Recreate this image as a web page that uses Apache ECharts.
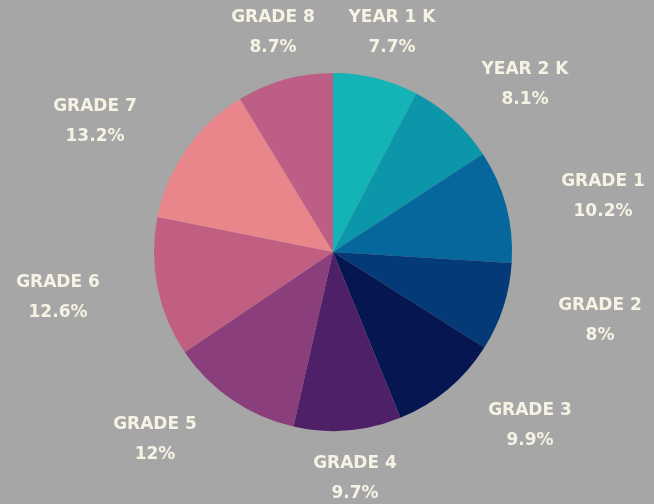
<!DOCTYPE html>
<html>
<head>
<meta charset="utf-8">
<script src="https://cdn.jsdelivr.net/npm/echarts@6/dist/echarts.min.js"></script>
<style>html,body{margin:0;padding:0;background:#a6a6a6;}#c{width:654px;height:504px;}</style>
</head>
<body>
<div id="c"></div>
<script>
var categories = ['YEAR 1 K','YEAR 2 K','GRADE 1','GRADE 2','GRADE 3','GRADE 4','GRADE 5','GRADE 6','GRADE 7','GRADE 8'];
var values = [7.7, 8.1, 10.2, 8, 9.9, 9.7, 12, 12.6, 13.2, 8.7];
var colors = ['#14b4b6','#0b96aa','#05679b','#053a78','#061650','#4d2067','#8a3e7c','#c05f82','#e8868b','#bd5e86'];
var labelSpots = [[392,33],[525,85],[603,197],[600,321],[530,426],[355,479],[155,440],[58,298],[95,122],[273,33]];

var chart = echarts.init(document.getElementById('c'), null, {renderer:'canvas'});
chart.setOption({
  backgroundColor: '#a6a6a6',
  animation: false,
  series: [{
    type: 'pie',
    center: [333, 252],
    radius: 179,
    startAngle: 90,
    clockwise: true,
    data: categories.map(function(n,i){ return {name:n, value:values[i], itemStyle:{color:colors[i]}}; }),
    label: {
      show: true,
      position: 'outside',
      formatter: '{b}\n{c}%',
      color: '#f6f2e4',
      fontFamily: 'DejaVu Sans',
      fontWeight: 'bold',
      fontSize: 17,
      lineHeight: 30,
      align: 'center'
    },
    labelLine: {show: false},
    labelLayout: function(p){
      var s = labelSpots[p.dataIndex];
      return {x: s[0], y: s[1], align: 'center', verticalAlign: 'middle'};
    },
    itemStyle: {borderWidth: 0}
  }]
});
</script>
</body>
</html>
